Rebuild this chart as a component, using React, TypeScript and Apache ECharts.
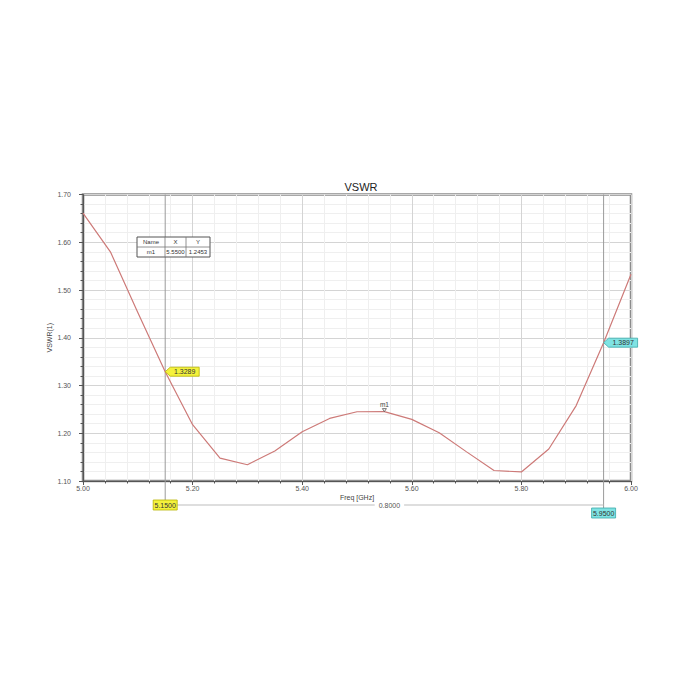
import React, { useEffect, useRef } from "react";
import * as echarts from "echarts";

const freqs = [5.0, 5.05, 5.1, 5.15, 5.2, 5.25, 5.3, 5.35, 5.4, 5.45, 5.5, 5.55, 5.6, 5.65, 5.7, 5.75, 5.8, 5.85, 5.9, 5.95, 6.0];
const vswr = [1.661, 1.58, 1.453, 1.3289, 1.218, 1.148, 1.134, 1.163, 1.203, 1.231, 1.245, 1.2453, 1.229, 1.201, 1.161, 1.122, 1.119, 1.167, 1.258, 1.3897, 1.533];
const cursorFreqs = [5.15, 5.95];
const cursorColors = ["#f4f23c", "#7fe3e3"];
const cursorBorders = ["#b8b400", "#3aa8a8"];
const markerName = "m1";
const markerFreq = 5.55;
const tableHeader = ["Name", "X", "Y"];

export default function App() {
  const ref = useRef<HTMLDivElement>(null);
  useEffect(() => {
    const chart = echarts.init(ref.current!, null, { renderer: "svg" });
    const font = "Liberation Sans, Arial, sans-serif";
    chart.setOption({
      animation: false,
      backgroundColor: "#ffffff",
      title: {
        text: "VSWR",
        left: 356,
        top: 176,
        textAlign: "center",
        textStyle: { fontSize: 11, fontWeight: "normal", color: "#222", fontFamily: font },
      },
      grid: {
        left: 83,
        right: 69,
        top: 194.5,
        bottom: 219,
        show: true,
        borderColor: "#8c8c8c",
        borderWidth: 2.5,
      },
      xAxis: {
        type: "value",
        min: 5.0,
        max: 6.0,
        interval: 0.2,
        name: "Freq [GHz]",
        nameLocation: "middle",
        nameGap: 13,
        nameTextStyle: { fontSize: 7, color: "#444", fontFamily: font },
        axisLine: { lineStyle: { color: "#555", width: 1.2 } },
        axisTick: { length: 4, lineStyle: { color: "#555" } },
        minorTick: { show: true, splitNumber: 5, length: 2.5, lineStyle: { color: "#555" } },
        axisLabel: { fontSize: 7, color: "#555", margin: 4, fontFamily: font, formatter: (v: number) => v.toFixed(2) },
        splitLine: { show: true, lineStyle: { color: "#d4d4d4" } },
        minorSplitLine: { show: true, lineStyle: { color: "#efefef" } },
      },
      yAxis: {
        type: "value",
        min: 1.1,
        max: 1.7,
        interval: 0.1,
        name: "VSWR(1)",
        nameLocation: "middle",
        nameGap: 30,
        nameMoveOverlap: false,
        nameTextStyle: { fontSize: 7, color: "#444", fontFamily: font },
        axisLine: { lineStyle: { color: "#555", width: 1.2 } },
        axisTick: { length: 4, lineStyle: { color: "#555" } },
        minorTick: { show: true, splitNumber: 5, length: 2.5, lineStyle: { color: "#555" } },
        axisLabel: { fontSize: 7, color: "#555", margin: 12, fontFamily: font, formatter: (v: number) => v.toFixed(2) },
        splitLine: { show: true, lineStyle: { color: "#d4d4d4" } },
        minorSplitLine: { show: true, lineStyle: { color: "#efefef" } },
      },
      series: [
        {
          type: "line",
          data: freqs.map((f, i) => [f, vswr[i]]),
          showSymbol: false,
          lineStyle: { color: "#cd7a78", width: 1.2 },
          z: 5,
        },
      ],
    });

    const px = (x: number, y: number) => chart.convertToPixel({ gridIndex: 0 }, [x, y]) as number[];
    const gridTop = px(5, 1.7)[1];
    const gridBottom = px(5, 1.1)[1];
    const graphics: any[] = [];
    const bottomY = [gridBottom + 24, gridBottom + 32];

    cursorFreqs.forEach((f, i) => {
      const idx = freqs.findIndex((v) => Math.abs(v - f) < 1e-9);
      const val = vswr[idx];
      const [cx, cy] = px(f, val);
      graphics.push({
        type: "line",
        shape: { x1: cx, y1: gridTop, x2: cx, y2: bottomY[i] },
        style: { stroke: "#9a9a9a", lineWidth: 1 },
        z: 3,
      });
      const w = 29;
      const h = 9;
      graphics.push({
        type: "polygon",
        shape: {
          points: [
            [cx, cy],
            [cx + 5, cy - h / 2],
            [cx + 5 + w, cy - h / 2],
            [cx + 5 + w, cy + h / 2],
            [cx + 5, cy + h / 2],
          ],
        },
        style: { fill: cursorColors[i], stroke: cursorBorders[i], lineWidth: 0.8 },
        z: 20,
      });
      graphics.push({
        type: "text",
        x: cx + 5 + w / 2,
        y: cy,
        style: { text: val.toFixed(4), fontSize: 7, fill: "#333", align: "center", verticalAlign: "middle", fontFamily: font },
        z: 21,
      });
      const bw = 24;
      graphics.push({
        type: "rect",
        shape: { x: cx - bw / 2, y: bottomY[i] - 5, width: bw, height: 10 },
        style: { fill: cursorColors[i], stroke: cursorBorders[i], lineWidth: 0.8 },
        z: 20,
      });
      graphics.push({
        type: "text",
        x: cx,
        y: bottomY[i],
        style: { text: f.toFixed(4), fontSize: 7, fill: "#333", align: "center", verticalAlign: "middle", fontFamily: font },
        z: 21,
      });
    });

    const x1 = px(cursorFreqs[0], 1.1)[0];
    const x2 = px(cursorFreqs[1], 1.1)[0];
    const dy = bottomY[0];
    const mid = px((cursorFreqs[0] + cursorFreqs[1]) / 2, 1.1)[0] + 5;
    graphics.push({
      type: "line",
      shape: { x1: x1 + 12, y1: dy, x2: x2, y2: dy },
      style: { stroke: "#bdbdbd", lineWidth: 1 },
      z: 4,
    });
    graphics.push({
      type: "text",
      x: mid,
      y: dy,
      style: {
        text: (cursorFreqs[1] - cursorFreqs[0]).toFixed(4),
        fontSize: 7,
        fill: "#555",
        align: "center",
        verticalAlign: "middle",
        backgroundColor: "#fff",
        padding: [0, 4],
        fontFamily: font,
      },
      z: 6,
    });

    const mIdx = freqs.findIndex((v) => Math.abs(v - markerFreq) < 1e-9);
    const mVal = vswr[mIdx];
    const [mx, my] = px(markerFreq, mVal);
    graphics.push({
      type: "polygon",
      shape: { points: [[mx - 2, my - 3], [mx + 2, my - 3], [mx, my]] },
      style: { fill: "#fff", stroke: "#555", lineWidth: 0.8 },
      z: 20,
    });
    graphics.push({
      type: "text",
      x: mx,
      y: my - 4,
      style: { text: markerName, fontSize: 6.5, fill: "#444", align: "center", verticalAlign: "bottom", fontFamily: font },
      z: 20,
    });

    const tl = 137;
    const tt = 237;
    const cols = [tl, 165, 186, 210];
    const rows = [tt, tt + 10, tt + 20];
    graphics.push({
      type: "rect",
      shape: { x: cols[0], y: rows[0], width: cols[3] - cols[0], height: rows[2] - rows[0] },
      style: { fill: "#fff", stroke: "#555", lineWidth: 1 },
      z: 20,
    });
    graphics.push({
      type: "line",
      shape: { x1: cols[0], y1: rows[1], x2: cols[3], y2: rows[1] },
      style: { stroke: "#777", lineWidth: 0.8 },
      z: 21,
    });
    [cols[1], cols[2]].forEach((c) =>
      graphics.push({
        type: "line",
        shape: { x1: c, y1: rows[0], x2: c, y2: rows[2] },
        style: { stroke: "#777", lineWidth: 0.8 },
        z: 21,
      })
    );
    const row2 = [markerName, markerFreq.toFixed(4), mVal.toFixed(4)];
    [tableHeader, row2].forEach((r, ri) =>
      r.forEach((t, ci) =>
        graphics.push({
          type: "text",
          x: (cols[ci] + cols[ci + 1]) / 2,
          y: (rows[ri] + rows[ri + 1]) / 2,
          style: { text: t, fontSize: 6, fill: "#333", align: "center", verticalAlign: "middle", fontFamily: font },
          z: 22,
        })
      )
    );

    chart.setOption({ graphic: graphics });
    return () => chart.dispose();
  }, []);
  return (
    <div
      ref={ref}
      style={{ position: "fixed", left: 0, top: 0, width: 700, height: 700, background: "#fff" }}
    />
  );
}
